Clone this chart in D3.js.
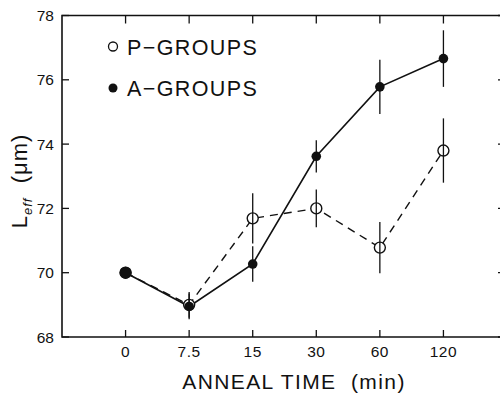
<!DOCTYPE html>
<html>
<head>
<meta charset="utf-8">
<script src="https://cdn.jsdelivr.net/npm/d3@7"></script>
<style>
  body { margin: 0; background: #fff; }
  svg { display: block; font-family: "Liberation Sans", Arial, sans-serif; }
</style>
</head>
<body>
<div id="chart"></div>
<script>
(function() {
    // ---- data ----
    const times = ["0", "7.5", "15", "30", "60", "120"];
    const yTicks = [68, 70, 72, 74, 76, 78];

    const aValues = [70.0, 68.95, 70.27, 73.62, 75.78, 76.66];
    const aErrors = [0, 0.4, 0.55, 0.5, 0.84, 0.88];

    const pValues = [70.0, 69.0, 71.69, 72.0, 70.78, 73.8];
    const pErrors = [0, 0.4, 0.78, 0.59, 0.8, 1.0];

    // ---- layout ----
    const width = 500;
    const height = 395;

    const svg = d3.select("#chart").append("svg")
        .attr("width", width)
        .attr("height", height);

    const x = d3.scaleLinear().domain([-1, 6]).range([62, 507]);
    const y = d3.scaleLinear().domain([68, 78]).range([337, 15.5]);

    const ink = "#111";

    // frame (right side falls outside the picture)
    svg.append("path")
        .attr("d", `M${x(6)},${y(78)}H${x(-1)}V${y(68)}H${x(6)}V${y(78)}`)
        .attr("fill", "none")
        .attr("stroke", ink)
        .attr("stroke-width", 1.6);

    // ticks, all pointing inwards
    const tickLen = 7;
    const idx = d3.range(times.length);
    svg.append("g").selectAll("line")
        .data(idx)
        .join("line")
        .attr("x1", i => x(i)).attr("x2", i => x(i))
        .attr("y1", y(68)).attr("y2", y(68) - tickLen)
        .attr("stroke", ink).attr("stroke-width", 1.3);
    svg.append("g").selectAll("line")
        .data(idx)
        .join("line")
        .attr("x1", i => x(i)).attr("x2", i => x(i))
        .attr("y1", y(78)).attr("y2", y(78) + tickLen + 1)
        .attr("stroke", ink).attr("stroke-width", 1.3);
    svg.append("g").selectAll("line")
        .data(yTicks)
        .join("line")
        .attr("x1", x(-1)).attr("x2", x(-1) + tickLen)
        .attr("y1", d => y(d)).attr("y2", d => y(d))
        .attr("stroke", ink).attr("stroke-width", 1.3);
    svg.append("g").selectAll("line")
        .data(yTicks)
        .join("line")
        .attr("x1", x(6)).attr("x2", x(6) - tickLen - 2)
        .attr("y1", d => y(d)).attr("y2", d => y(d))
        .attr("stroke", ink).attr("stroke-width", 1.3);

    // tick labels
    svg.append("g").selectAll("text")
        .data(yTicks)
        .join("text")
        .attr("x", x(-1) - 8)
        .attr("y", d => y(d) + 5.5)
        .attr("text-anchor", "end")
        .attr("font-size", 15.5)
        .attr("fill", ink)
        .text(d => d);
    svg.append("g").selectAll("text")
        .data(times)
        .join("text")
        .attr("x", (d, i) => x(i))
        .attr("y", 357)
        .attr("text-anchor", "middle")
        .attr("font-size", 15.5)
        .attr("letter-spacing", 0.5)
        .attr("fill", ink)
        .text(d => d);

    // axis titles
    svg.append("text")
        .attr("x", 294)
        .attr("y", 389)
        .attr("text-anchor", "middle")
        .attr("font-size", 21)
        .attr("letter-spacing", 1.4)
        .style("white-space", "pre")
        .attr("fill", ink)
        .text("ANNEAL TIME  (min)");

    const yTitle = svg.append("text")
        .attr("transform", "translate(27,181) rotate(-90)")
        .attr("text-anchor", "middle")
        .attr("font-size", 22)
        .attr("letter-spacing", 1)
        .style("white-space", "pre")
        .attr("fill", ink);
    yTitle.append("tspan").text("L");
    yTitle.append("tspan").attr("font-size", 13).attr("font-style", "italic").attr("dy", 5).text("eff");
    yTitle.append("tspan").attr("dy", -5).text("  (\u03bcm)");

    // series lines
    const line = d3.line().x((d, i) => x(i)).y(d => y(d));

    svg.append("path")
        .datum(pValues)
        .attr("d", line)
        .attr("fill", "none")
        .attr("stroke", ink)
        .attr("stroke-width", 1.4)
        .attr("stroke-dasharray", "8,6");

    svg.append("path")
        .datum(aValues)
        .attr("d", line)
        .attr("fill", "none")
        .attr("stroke", ink)
        .attr("stroke-width", 1.6);

    // open markers (P)
    svg.append("g").selectAll("circle")
        .data(pValues)
        .join("circle")
        .attr("cx", (d, i) => x(i))
        .attr("cy", d => y(d))
        .attr("r", 5.5)
        .attr("fill", "#fff")
        .attr("stroke", ink)
        .attr("stroke-width", 1.4);

    // filled markers (A)
    svg.append("g").selectAll("circle")
        .data(aValues)
        .join("circle")
        .attr("cx", (d, i) => x(i))
        .attr("cy", d => y(d))
        .attr("r", (d, i) => i === 0 ? 6 : 4.8)
        .attr("fill", ink);

    // error bars
    const bars = (vals, errs) => vals.map((v, i) => ({i, lo: v - errs[i], hi: v + errs[i]}))
        .filter(d => d.hi > d.lo);
    svg.append("g").selectAll("line")
        .data(bars(pValues, pErrors).concat(bars(aValues, aErrors)))
        .join("line")
        .attr("x1", d => x(d.i)).attr("x2", d => x(d.i))
        .attr("y1", d => y(d.lo)).attr("y2", d => y(d.hi))
        .attr("stroke", ink)
        .attr("stroke-width", 1.3);

    // legend
    const legend = svg.append("g");
    legend.append("circle")
        .attr("cx", 113).attr("cy", 46.5).attr("r", 4.5)
        .attr("fill", "#fff").attr("stroke", ink).attr("stroke-width", 1.3);
    legend.append("circle")
        .attr("cx", 113).attr("cy", 88).attr("r", 4.5)
        .attr("fill", ink);
    legend.append("text")
        .attr("x", 127).attr("y", 55)
        .attr("font-size", 21.5)
        .attr("letter-spacing", 1.4)
        .attr("fill", ink)
        .text("P\u2212GROUPS");
    legend.append("text")
        .attr("x", 127).attr("y", 96)
        .attr("font-size", 21.5)
        .attr("letter-spacing", 1.4)
        .attr("fill", ink)
        .text("A\u2212GROUPS");
})();
</script>
</body>
</html>
